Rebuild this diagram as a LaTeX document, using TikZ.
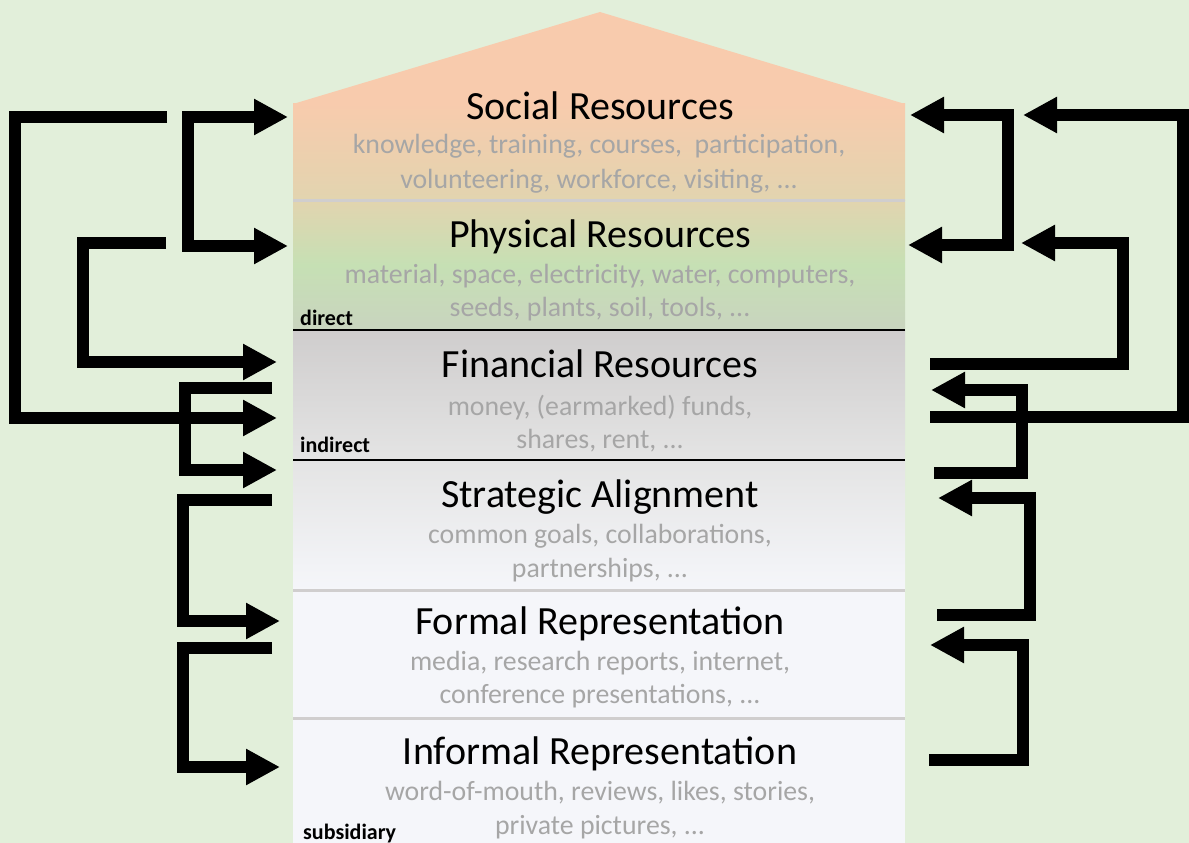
\documentclass[tikz,border=0pt]{standalone}
\usepackage{fontspec}
\setmainfont{Carlito}
\usepackage{tikz}
\usetikzlibrary{arrows.meta}
\usetikzlibrary{positioning}
\usepackage{xcolor}
\definecolor{mybg}{HTML}{E2EFDA}
\definecolor{myroof}{HTML}{F8CBAD}
\definecolor{mybeige}{HTML}{E2D4AF}
\definecolor{mygreen}{HTML}{C6E0B4}
\definecolor{mysage}{HTML}{C9D4BF}
\definecolor{mygrey}{HTML}{CFCDCD}
\definecolor{mylight}{HTML}{E4E4E4}
\definecolor{mypale}{HTML}{F5F6FA}
\definecolor{mysep}{HTML}{D0CECE}
\definecolor{mytext}{HTML}{A6A6A6}
\tikzset{x=1pt, y=-1pt, node distance=0pt, every text node part/.style={align=center}}
\tikzstyle{band} = [rectangle, minimum width=612pt, inner sep=0pt, outer sep=0pt]
\tikzstyle{ttl} = [anchor=base, inner sep=0pt, font={\fontsize{40}{40}\selectfont}]
\tikzstyle{items} = [anchor=base, inner sep=0pt, text=mytext, font={\fontsize{27.8}{28}\selectfont}]
\tikzstyle{tier} = [anchor=base west, inner sep=0pt, font={\fontsize{22}{22}\selectfont\bfseries}]
\tikzstyle{ln} = [line width=12pt, arrows={-Triangle[length=34pt, width=34pt]}]
\tikzstyle{lnn} = [line width=12pt, arrows={Triangle[length=34pt, width=34pt]-Triangle[length=34pt, width=34pt]}]

\begin{document}
\begin{tikzpicture}
  \useasboundingbox (0,0) rectangle (1189,843);
  \fill[mybg] (0,0) rectangle (1189,843);
  % house
  \fill[myroof] (293,104) -- (600,12) -- (905,104) -- cycle;
  \node[band, minimum height=97pt, top color=myroof, bottom color=mybeige] (social) at (599,151.5) {};
  \node[band, minimum height=130pt, below=of social, top color=mybeige, bottom color=mysage, middle color=mygreen] (physical) {};
  \node[band, minimum height=130pt, below=of physical, top color=mygrey, bottom color=mylight] (financial) {};
  \node[band, minimum height=130pt, below=of financial, top color=mylight, bottom color=mypale] (strategic) {};
  \node[band, minimum height=128pt, below=of strategic, fill=mypale] (formal) {};
  \node[band, minimum height=125pt, below=of formal, fill=mypale] (informal) {};
  \draw[mysep, line width=3pt] (social.south west) -- (social.south east);
  \draw[line width=2pt] (physical.south west) -- (physical.south east);
  \draw[line width=2pt] (financial.south west) -- (financial.south east);
  \draw[mysep, line width=3pt] (strategic.south west) -- (strategic.south east);
  \draw[mysep, line width=3pt] (formal.south west) -- (formal.south east);

  % texts
  \node[ttl] (socialT) at (600,119) {Social Resources};
  \node[items] (socialA) at (599,153) {knowledge, training, courses,~ participation,};
  \node[items] (socialB) at (599,188) {volunteering, workforce, visiting, ...};
  \node[ttl] (physicalT) at (600,247) {Physical Resources};
  \node[items] (physicalA) at (600,283) {material, space, electricity, water, computers,};
  \node[items] (physicalB) at (600,316) {seeds, plants, soil, tools, ...};
  \node[ttl] (financialT) at (600,377) {Financial Resources};
  \node[items] (financialA) at (600,415) {money, (earmarked) funds,};
  \node[items] (financialB) at (600,448) {shares, rent, ...};
  \node[ttl] (strategicT) at (600,507) {Strategic Alignment};
  \node[items] (strategicA) at (600,543) {common goals, collaborations,};
  \node[items] (strategicB) at (600,577) {partnerships, ...};
  \node[ttl] (formalT) at (600,634) {Formal Representation};
  \node[items] (formalA) at (600,670) {media, research reports, internet,};
  \node[items] (formalB) at (600,703) {conference presentations, ...};
  \node[ttl] (informalT) at (600,764) {Informal Representation};
  \node[items] (informalA) at (600,800) {word-of-mouth, reviews, likes, stories,};
  \node[items] (informalB) at (600,834) {private pictures, ...};
  \node[tier] (direct) at (300,325) {direct};
  \node[tier] (indirect) at (300,452) {indirect};
  \node[tier] (subsidiary) at (303,839) {subsidiary};

  % arrow ends
  \coordinate (socW) at (288,117);
  \coordinate (phyW) at (288,246);
  \coordinate (finW1) at (277,362);
  \coordinate (finW2) at (277,418);
  \coordinate (finW3) at (277,470);
  \coordinate (forW) at (280,621);
  \coordinate (infW) at (280,767);
  \coordinate (socE1) at (910,115);
  \coordinate (socE2) at (1023,115);
  \coordinate (phyE1) at (908,245);
  \coordinate (phyE2) at (1021,243);
  \coordinate (finE) at (931,390);
  \coordinate (strE) at (938,498);
  \coordinate (forE) at (930,645);
  \coordinate (s1) at (167,117);
  \coordinate (s3) at (166,243);
  \coordinate (s4) at (272,388);
  \coordinate (s5) at (272,500);
  \coordinate (s6) at (272,648);
  \coordinate (t2) at (930,417);
  \coordinate (t3) at (930,364);
  \coordinate (t4) at (934,473);
  \coordinate (t5) at (937,615);
  \coordinate (t6) at (929,760);

  % left side
  \draw[ln] (s1) -- (15,117) |- (finW2);
  \draw[lnn] (socW) -- (188,117) |- (phyW);
  \draw[ln] (s3) -- (83,243) |- (finW1);
  \draw[ln] (s4) -- (185,388) |- (finW3);
  \draw[ln] (s5) -- (183,500) |- (forW);
  \draw[ln] (s6) -- (183,648) |- (infW);
  % right side
  \draw[lnn] (socE1) -- (1008,115) |- (phyE1);
  \draw[ln] (t2) -- (1183,417) |- (socE2);
  \draw[ln] (t3) -- (1123,364) |- (phyE2);
  \draw[ln] (t4) -- (1022,473) |- (finE);
  \draw[ln] (t5) -- (1030,615) |- (strE);
  \draw[ln] (t6) -- (1023,760) |- (forE);
\end{tikzpicture}
\end{document}
